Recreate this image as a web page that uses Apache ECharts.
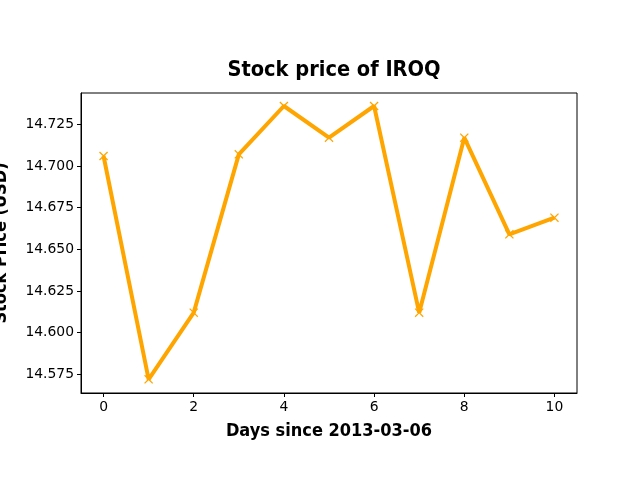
<!DOCTYPE html>
<html>
<head>
<meta charset="utf-8">
<script src="https://cdn.jsdelivr.net/npm/echarts@6/dist/echarts.min.js"></script>
<style>html,body{margin:0;padding:0;background:#fff}#c{width:640px;height:480px}</style>
</head>
<body>
<div id="c"></div>
<script>
var days = [0, 1, 2, 3, 4, 5, 6, 7, 8, 9, 10];
var prices = [14.706, 14.572, 14.612, 14.707, 14.736, 14.717, 14.736, 14.612, 14.717, 14.659, 14.669];
var xTicks = [0, 2, 4, 6, 8, 10];
var yTicks = [14.575, 14.600, 14.625, 14.650, 14.675, 14.700, 14.725];

var chart = echarts.init(document.getElementById('c'), null, {renderer: 'canvas'});
var condensed = '"Liberation Sans Narrow", "DejaVu Sans Condensed", sans-serif';
chart.setOption({
  animation: false,
  backgroundColor: '#fff',
  title: {
    text: 'Stock price of IROQ',
    left: 329, top: 54, textAlign: 'center',
    textStyle: {fontFamily: condensed, fontWeight: 'bold', fontSize: 21.6, color: '#000'}
  },
  grid: {left: 81, top: 93, right: 63, bottom: 87, show: true, borderColor: '#000', borderWidth: 1,
    backgroundColor: 'transparent', outerBoundsMode: 'none', containLabel: false},
  xAxis: {
    type: 'value', min: -0.5, max: 10.5,
    name: 'Days since 2013-03-06', nameLocation: 'middle', nameGap: 29,
    nameTextStyle: {fontFamily: condensed, fontWeight: 'bold', fontSize: 18, color: '#000'},
    axisLine: {show: true, onZero: false, lineStyle: {color: '#000', width: 1}},
    axisTick: {show: true, inside: false, length: 4, lineStyle: {color: '#000', width: 1}, customValues: xTicks},
    axisLabel: {customValues: xTicks, fontFamily: 'DejaVu Sans', fontSize: 13.9, color: '#000', margin: 7},
    splitLine: {show: false}
  },
  yAxis: {
    type: 'value', min: 14.5638, max: 14.7438,
    name: 'Stock Price (USD)', nameLocation: 'middle', nameGap: 71,
    nameTextStyle: {fontFamily: condensed, fontWeight: 'bold', fontSize: 18, color: '#000'},
    axisLine: {show: true, onZero: false, lineStyle: {color: '#000', width: 1}},
    axisTick: {show: true, inside: false, length: 4, lineStyle: {color: '#000', width: 1}, customValues: yTicks},
    axisLabel: {customValues: yTicks, fontFamily: 'DejaVu Sans', fontSize: 13.9, color: '#000', margin: 7,
      formatter: function (v) { return v.toFixed(3); }},
    splitLine: {show: false}
  },
  series: [{
    type: 'line',
    data: days.map(function (d, i) { return [d, prices[i]]; }),
    lineStyle: {color: '#FFA500', width: 4},
    itemStyle: {color: '#FFA500'},
    symbol: 'path://M0,1L1,0L5,4L9,0L10,1L6,5L10,9L9,10L5,6L1,10L0,9L4,5Z',
    symbolSize: 9,
    showAllSymbol: true
  }]
});
</script>
</body>
</html>
